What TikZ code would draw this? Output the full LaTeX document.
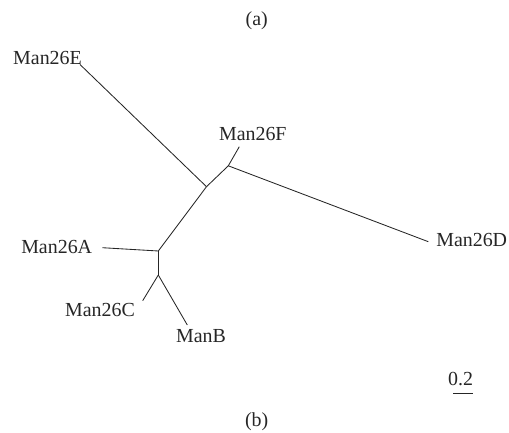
\documentclass[tikz,border=0pt]{standalone}
\usepackage{fontspec}
\setmainfont{Liberation Serif}
\begin{document}
\begin{tikzpicture}[x=1bp,y=-1bp,
  branch/.style={line width=0.85bp,black!85},
  taxon/.style={inner sep=0pt,font=\fontsize{20}{22}\selectfont,text=black!85},
  caption/.style={inner sep=0pt,font=\fontsize{20}{22}\selectfont,text=black!85}]
\useasboundingbox (0,0) rectangle (509,433);
% internal nodes of the unrooted tree
\coordinate (nE) at (206.5,186.7);
\coordinate (nF) at (228.3,165.8);
\coordinate (nA) at (158.3,251);
\coordinate (nC) at (158.3,275);
% branch tips
\coordinate (tE) at (80,64.5);
\coordinate (tF) at (239.3,146.7);
\coordinate (tD) at (428.3,241.7);
\coordinate (tA) at (102.3,247.7);
\coordinate (tC) at (142.7,300.7);
\coordinate (tB) at (187.3,325);
% branches
\draw[branch] (tE) -- (nE);
\draw[branch] (nE) -- (nF);
\draw[branch] (nF) -- (tF);
\draw[branch] (nF) -- (tD);
\draw[branch] (nE) -- (nA);
\draw[branch] (nA) -- (tA);
\draw[branch] (nA) -- (nC);
\draw[branch] (nC) -- (tC);
\draw[branch] (nC) -- (tB);
% taxon labels
\node[taxon] (lE) at (47.5,58.3) {Man26E};
\node[taxon] (lF) at (252.8,134) {Man26F};
\node[taxon] (lD) at (471.7,240) {Man26D};
\node[taxon] (lA) at (56.7,246.7) {Man26A};
\node[taxon] (lC) at (100,310) {Man26C};
\node[taxon] (lB) at (201,336) {ManB};
% scale bar
\node[caption] (sc) at (460.5,379) {0.2};
\coordinate (s1) at (453.3,393.3);
\coordinate (s2) at (473.3,393.3);
\draw[branch] (s1) -- (s2);
% panel captions
\node[caption] (pa) at (256.7,20.5) {(a)};
\node[caption] (pb) at (256.7,422) {(b)};
\end{tikzpicture}
\end{document}
